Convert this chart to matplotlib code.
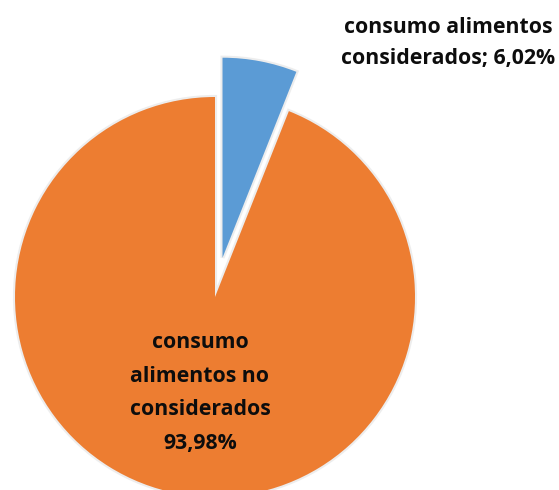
import matplotlib.pyplot as plt

labels = ["consumo alimentos\nconsiderados; 6,02%", "consumo\nalimentos no\nconsiderados\n93,98%"]
values = [6.02, 93.98]
colors = ["#5B9BD5", "#ED7D31"]
explode = [0.2, 0.0]

plt.rcParams['font.family'] = ['Open Sans', 'DejaVu Sans']

fig = plt.figure(figsize=(5.59, 4.9), dpi=100)
ax = fig.add_axes([0, 0, 1, 1])

# soft shadow behind the wedges
ax.pie(values, explode=explode, startangle=90, counterclock=False,
       colors=["#e6e6e6", "#e6e6e6"], radius=1.0,
       wedgeprops=dict(edgecolor="#e6e6e6", linewidth=3, alpha=0.7))
ax.pie(values, explode=explode, startangle=90, counterclock=False,
       colors=colors, radius=1.0, wedgeprops=dict(edgecolor="none"))

ax.set_xlim(-1.075, 1.72)
ax.set_ylim(-0.965, 1.485)
ax.set_aspect("equal")
ax.axis("off")

ax.text(1.165, 1.27, labels[0], ha="center", va="center", fontsize=15.3,
        fontweight="bold", color="#0d0d0d", linespacing=1.65)
ax.text(-0.075, -0.48, labels[1], ha="center", va="center", fontsize=15.3,
        fontweight="bold", color="#0d0d0d", linespacing=1.78)

fig.savefig("out.png", dpi=100)
